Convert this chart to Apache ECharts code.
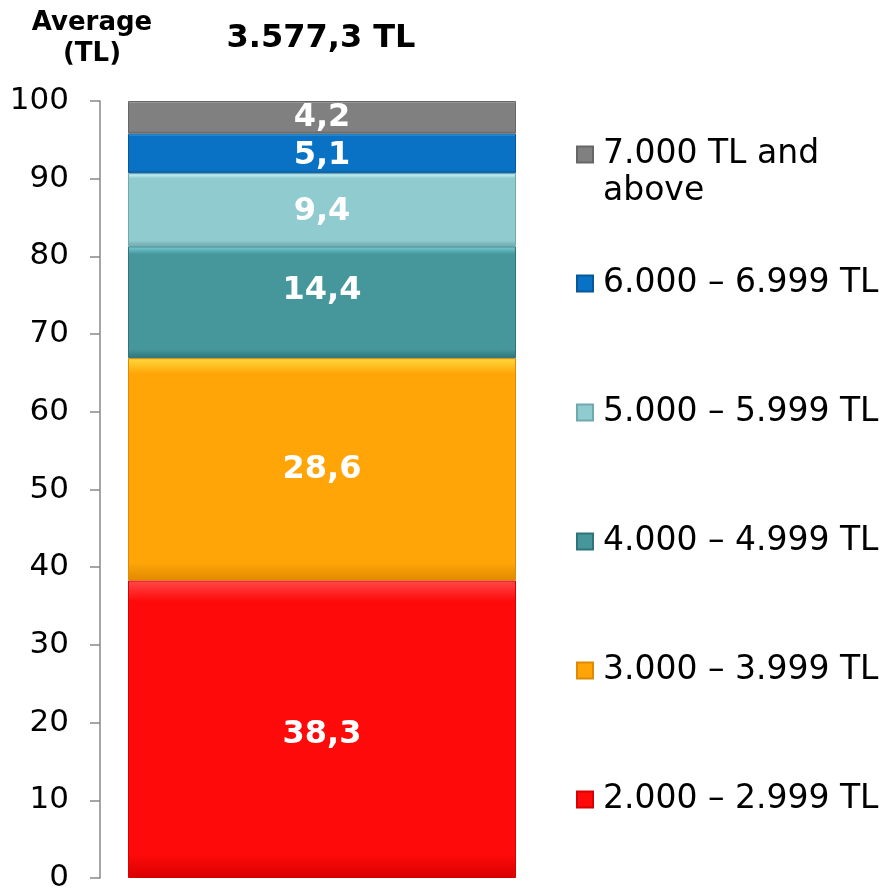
<!DOCTYPE html>
<html>
<head>
<meta charset="utf-8">
<script src="https://cdn.jsdelivr.net/npm/echarts@6/dist/echarts.min.js"></script>
<style>
  html, body { margin: 0; padding: 0; background: #fff; }
  #chart { width: 887px; height: 890px; }
</style>
</head>
<body>
<div id="chart"></div>
<script>
// data, bottom -> top of the stack
const categories = ["Income"];
const seriesNames = [
  "2.000 – 2.999 TL",
  "3.000 – 3.999 TL",
  "4.000 – 4.999 TL",
  "5.000 – 5.999 TL",
  "6.000 – 6.999 TL",
  "7.000 TL and above"
];
const seriesValues = [38.3, 28.6, 14.4, 9.4, 5.1, 4.2];
const yTicks = [0, 10, 20, 30, 40, 50, 60, 70, 80, 90, 100];
const averageText = "3.577,3 TL";

// [top highlight, base, bottom shade]
const palette = [
  ["#ff4a4a", "#ff0a0a", "#d80000"],
  ["#ffd93a", "#ffa508", "#e08a00"],
  ["#78cfd4", "#46979c", "#2f7479"],
  ["#d0fdff", "#90cbd0", "#6fa9ae"],
  ["#42b8ff", "#0a72c4", "#07589a"],
  ["#c4c4c4", "#808080", "#666666"]
];

// legend text centers (y) for each series
const legendCenters = [799, 670, 541, 412, 283, 154];
// small vertical nudges of the value labels (Excel places them a bit off-centre)
const labelNudge = [5, 0, -12, 2, 2, 0];

function bevel(c) {
  return new echarts.graphic.LinearGradient(0, 0, 0, 1, [
    { offset: 0, color: c[0] },
    { offset: 0.07, color: c[1] },
    { offset: 0.92, color: c[1] },
    { offset: 1, color: c[2] }
  ]);
}

const fmt = v => v.toFixed(1).replace(".", ",");
const FONT = "DejaVu Sans";

const series = seriesNames.map((name, i) => ({
  name: name,
  type: "bar",
  stack: "total",
  barWidth: 388,
  data: [seriesValues[i]],
  itemStyle: {
    color: bevel(palette[i]),
    borderColor: palette[i][2],
    borderWidth: 1
  },
  label: {
    show: true,
    position: "inside",
    offset: [0, labelNudge[i]],
    color: "#fff",
    fontFamily: FONT,
    fontWeight: "bold",
    fontSize: 32,
    formatter: p => fmt(p.value)
  }
}));

const legends = seriesNames.map((name, i) => {
  const multi = i === 5;
  return {
    data: [name],
    left: 576,
    top: multi ? legendCenters[i] - 55 : legendCenters[i] - 18,
    padding: 0,
    icon: "rect",
    itemWidth: 16,
    itemHeight: 16,
    itemGap: 0,
    selectedMode: false,
    // blank first line keeps the marker level with "7.000 TL and"
    formatter: n => (multi ? "\n7.000 TL and\nabove" : n),
    textStyle: {
      fontFamily: FONT,
      fontSize: 33,
      color: "#000",
      lineHeight: 37,
      padding: [0, 0, 0, 5]
    }
  };
});

const chart = echarts.init(document.getElementById("chart"));
chart.setOption({
  animation: false,
  title: [
    {
      text: "Average\n(TL)",
      left: 87,
      top: 3,
      textAlign: "center",
      textStyle: { fontFamily: FONT, fontWeight: "bold", fontSize: 26, lineHeight: 31, color: "#000" }
    },
    {
      text: averageText,
      left: 316,
      top: 18,
      textAlign: "center",
      textStyle: { fontFamily: FONT, fontWeight: "bold", fontSize: 32, color: "#000" }
    }
  ],
  legend: legends,
  grid: { left: 100, right: 343, top: 101, bottom: 12, containLabel: false, outerBoundsMode: "none" },
  xAxis: {
    type: "category",
    data: categories,
    show: false
  },
  yAxis: {
    type: "value",
    min: yTicks[0],
    max: yTicks[yTicks.length - 1],
    interval: 10,
    axisLine: { show: true, lineStyle: { color: "#888", width: 1.5 } },
    axisTick: { show: true, length: 10, lineStyle: { color: "#888", width: 1.5 } },
    splitLine: { show: false },
    axisLabel: {
      margin: 31,
      fontFamily: FONT,
      fontSize: 31,
      color: "#000"
    }
  },
  series: series
});
</script>
</body>
</html>
